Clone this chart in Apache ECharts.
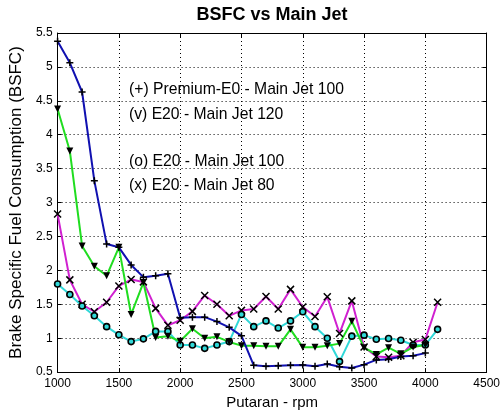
<!DOCTYPE html>
<html><head><meta charset="utf-8">
<script src="https://cdn.jsdelivr.net/npm/echarts@6/dist/echarts.min.js"></script>
<style>html,body{margin:0;padding:0;background:#fff}#c{width:503px;height:415px}</style>
</head><body><div id="c"></div>
<script>
const rpm = [1000,1100,1200,1300,1400,1500,1600,1700,1800,1900,2000,2100,2200,2300,2400,2500,2600,2700,2800,2900,3000,3100,3200,3300,3400,3500,3600,3700,3800,3900,4000,4100];
const premiumE0Jet100 = [5.38,5.06,4.63,3.32,2.39,2.34,2.08,1.90,1.92,1.95,1.30,1.31,1.31,1.245,1.16,1.035,0.60,0.585,0.595,0.60,0.605,0.585,0.62,0.58,0.56,0.61,0.68,0.69,0.73,0.74,0.78];
const e20Jet120 = [4.38,3.76,2.36,2.06,1.92,2.34,1.35,1.82,1.01,1.03,0.955,1.14,1.0,1.02,0.945,0.89,0.89,0.88,0.88,1.13,0.865,0.865,0.89,0.92,1.25,0.86,0.76,0.86,0.77,0.87,0.90];
const e20Jet100 = [1.80,1.645,1.475,1.33,1.17,1.05,0.95,0.99,1.10,1.10,0.90,0.90,0.85,0.90,0.95,1.35,1.17,1.255,1.15,1.255,1.39,1.17,1.0,0.655,1.03,1.045,0.985,0.995,0.97,0.90,0.90,1.13];
const e20Jet80 = [2.83,1.86,1.50,1.39,1.53,1.77,1.865,1.83,1.44,1.19,1.265,1.395,1.63,1.50,1.33,1.41,1.43,1.615,1.43,1.72,1.46,1.32,1.61,1.07,1.55,0.87,0.73,0.72,0.74,0.94,0.98,1.53];
const legendTexts = ['(+) Premium-E0 - Main Jet 100','(v) E20 - Main Jet 120','(o) E20 - Main Jet 100','(x) E20 - Main Jet 80'];
const titleText = 'BSFC vs Main Jet';
const xName = 'Putaran - rpm';
const yName = 'Brake Specific Fuel Consumption (BSFC)';

const font = '"Liberation Sans", Arial, Helvetica, sans-serif';
function pairs(vals){ return vals.map((v,i)=>[rpm[i], v]); }
const plusSym = 'path://M0,-1L0,1M-1,0L1,0';
const crossSym = 'path://M-1,-1L1,1M-1,1L1,-1';

function mkSeries(name, vals, color, symbol, extra){
  return Object.assign({
    name, type:'line', data:pairs(vals), symbol, symbolSize:7,
    lineStyle:{color, width:2}, itemStyle:{color:'#000', borderColor:'#000', borderWidth:1.5},
    emphasis:{disabled:true}, silent:true
  }, extra||{});
}
const axisCommon = {
  axisLine:{show:true, onZero:false, lineStyle:{color:'#000', width:1}},
  axisTick:{show:true, inside:true, length:4, lineStyle:{color:'#000'}},
};
const plain = v => String(v);
const chart = echarts.init(document.getElementById('c'));
chart.setOption({
  animation:false,
  backgroundColor:'#fff',
  grid:{left:55, right:13, top:33, bottom:40},
  xAxis:[Object.assign({type:'value', min:1000, max:4500, interval:500,
    axisLabel:{color:'#000', fontSize:12, fontFamily:font, margin:6, formatter:plain},
    splitLine:{show:true, lineStyle:{color:'#000', type:[1,3], width:1}},
    name:xName, nameLocation:'middle', nameGap:22,
    nameTextStyle:{color:'#000', fontSize:15, fontFamily:font}}, axisCommon),
    Object.assign({type:'value', position:'top', min:1000, max:4500, interval:500,
    axisLabel:{show:false}, splitLine:{show:false}}, axisCommon)],
  yAxis:[Object.assign({type:'value', min:0.5, max:5.5, interval:0.5,
    axisLabel:{color:'#000', fontSize:12, fontFamily:font, margin:5, formatter:plain},
    splitLine:{show:true, lineStyle:{color:'#000', type:[1,3], width:1}},
    name:yName, nameLocation:'middle', nameGap:31,
    nameTextStyle:{color:'#000', fontSize:17, fontFamily:font}}, axisCommon),
    Object.assign({type:'value', position:'right', min:0.5, max:5.5, interval:0.5,
    axisLabel:{show:false}, splitLine:{show:false}}, axisCommon)],
  graphic:[
    {type:'text', x:272, y:15, style:{text:titleText, font:'bold 18px '+font, fill:'#000', textAlign:'center', textVerticalAlign:'middle'}},
    {type:'text', x:129, y:90, style:{text:legendTexts[0], font:'15.7px '+font, fill:'#000', textVerticalAlign:'middle'}},
    {type:'text', x:129, y:115, style:{text:legendTexts[1], font:'15.7px '+font, fill:'#000', textVerticalAlign:'middle'}},
    {type:'text', x:129, y:162, style:{text:legendTexts[2], font:'15.7px '+font, fill:'#000', textVerticalAlign:'middle'}},
    {type:'text', x:129, y:186, style:{text:legendTexts[3], font:'15.7px '+font, fill:'#000', textVerticalAlign:'middle'}}
  ],
  series:[
    mkSeries('E20 - Main Jet 80', e20Jet80, '#d020d0', crossSym),
    mkSeries('E20 - Main Jet 100', e20Jet100, '#30d8d8', 'circle', {itemStyle:{color:'#30d8d8', borderColor:'#000', borderWidth:1.6}, symbolSize:6}),
    mkSeries('E20 - Main Jet 120', e20Jet120, '#20dd20', 'triangle', {symbolRotate:180, itemStyle:{color:'#000'}}),
    mkSeries('Premium-E0 - Main Jet 100', premiumE0Jet100, '#1010b0', plusSym)
  ]
});
</script></body></html>
